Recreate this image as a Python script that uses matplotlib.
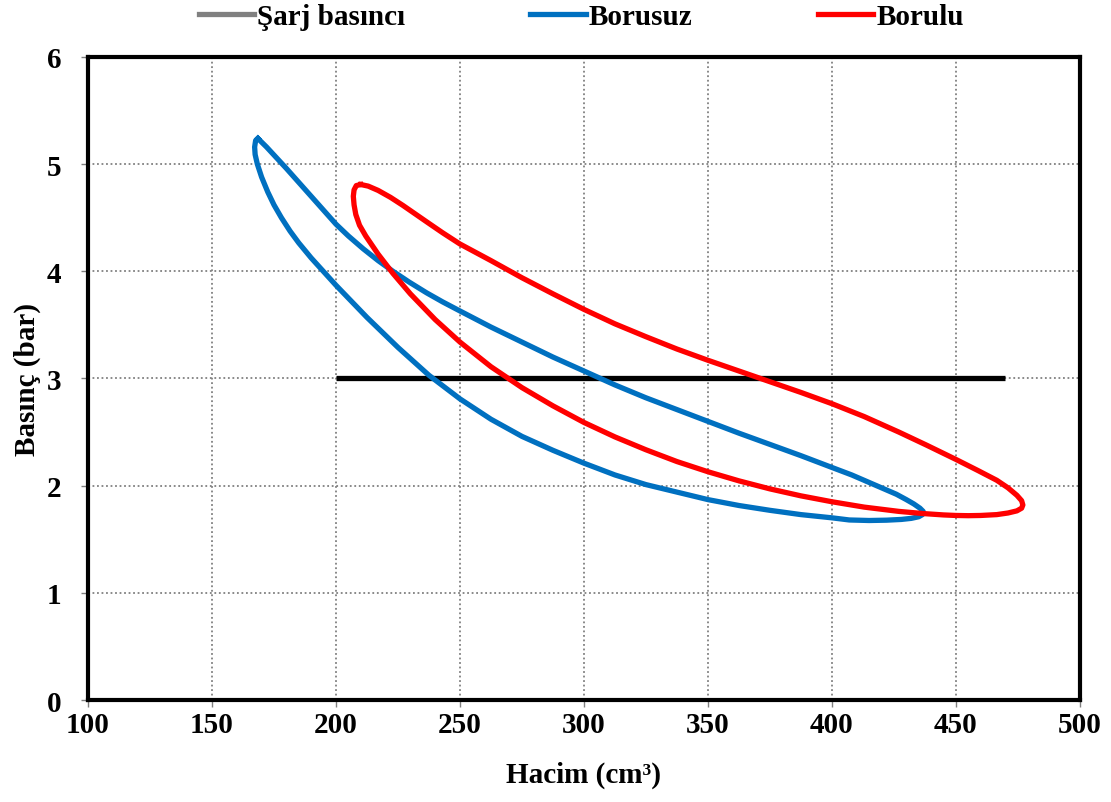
import matplotlib.pyplot as plt
from matplotlib.lines import Line2D

# P-V döngüleri
# Borusuz: sol uçtan üst kol boyunca sağa, alt kol boyunca geri
blue_x = [168.5, 172, 176, 180, 185, 190, 195, 200, 205, 211, 217, 223, 229.5, 236.5,
          243, 250, 262.5, 275, 287.5, 300, 312.5, 325, 337.5, 350, 362.5, 375, 387.5,
          400, 408, 415, 421, 426, 430, 433, 435.5, 436.8, 436.5, 435, 432, 428, 422,
          415, 407, 400, 387.5, 375, 362.5, 350, 337.5, 325, 312.5, 300, 287.5, 275,
          262.5, 250, 237.5, 225, 212.5, 200, 190, 185, 181.5, 178, 175, 172.5, 170,
          168.3, 167.4, 167.2, 167.6, 168.5]
blue_y = [5.24, 5.16, 5.06, 4.96, 4.83, 4.70, 4.57, 4.44, 4.33, 4.21, 4.10, 4.00, 3.90,
          3.80, 3.715, 3.63, 3.48, 3.34, 3.20, 3.07, 2.94, 2.82, 2.71, 2.60, 2.49,
          2.385, 2.28, 2.17, 2.10, 2.03, 1.97, 1.92, 1.87, 1.83, 1.79, 1.76, 1.73,
          1.71, 1.695, 1.685, 1.678, 1.675, 1.68, 1.70, 1.73, 1.77, 1.815, 1.87,
          1.94, 2.01, 2.10, 2.21, 2.33, 2.46, 2.62, 2.81, 3.03, 3.29, 3.57, 3.87,
          4.125, 4.265, 4.375, 4.50, 4.62, 4.74, 4.88, 5.00, 5.09, 5.16, 5.22, 5.24]

# Borulu
red_x = [210, 213, 217, 222, 227, 232, 237, 243, 250, 262.5, 275, 287.5, 300, 312.5,
         325, 337.5, 350, 362.5, 375, 387.5, 400, 413, 427, 438, 450, 459, 466.5, 471,
         474.6, 476.5, 477, 476.5, 474.6, 471, 466.5, 460, 455, 450, 445, 436.7, 427,
         413, 400, 387.5, 375, 362.5, 350, 337.5, 325, 312.5, 300, 287.5, 275, 262.5,
         250, 240, 230, 223, 217, 212, 209.5, 208, 207.3, 207, 207.3, 208.2, 210]
red_y = [4.81, 4.795, 4.755, 4.69, 4.615, 4.535, 4.455, 4.36, 4.255, 4.10, 3.94, 3.79,
         3.645, 3.51, 3.39, 3.275, 3.17, 3.07, 2.97, 2.87, 2.765, 2.645, 2.50, 2.38,
         2.245, 2.14, 2.05, 1.98, 1.91, 1.86, 1.82, 1.79, 1.765, 1.745, 1.73, 1.722,
         1.72, 1.722, 1.727, 1.74, 1.76, 1.80, 1.85, 1.905, 1.97, 2.045, 2.13, 2.225,
         2.335, 2.455, 2.59, 2.745, 2.915, 3.11, 3.34, 3.55, 3.79, 3.98, 4.16, 4.33,
         4.43, 4.53, 4.62, 4.70, 4.76, 4.80, 4.81]

# Şarj basıncı
sarj_x = [200, 470]
sarj_y = [3, 3]

plt.rcParams['font.family'] = ['Liberation Serif', 'DejaVu Serif']
plt.rcParams['font.weight'] = 'bold'

fig = plt.figure(figsize=(11.11, 8.03), dpi=100)
ax = fig.add_axes([0.0792, 0.127, 0.8928, 0.8008])

ax.plot(sarj_x, sarj_y, color='black', lw=3.8, solid_capstyle='butt', zorder=3)
ax.plot(blue_x, blue_y, color='#0070C0', lw=3.8, solid_joinstyle='round', zorder=4)
ax.plot(red_x, red_y, color='#FF0000', lw=3.8, solid_joinstyle='round', zorder=5)

ax.set_xlim(100, 500)
ax.set_ylim(0, 6)
ax.set_xticks(range(100, 501, 50))
ax.set_yticks(range(0, 7))
ax.grid(True, color='#808080', linestyle=(0, (1, 1.5)), linewidth=1.3, zorder=1)
ax.set_axisbelow(True)

for s in ax.spines.values():
    s.set_linewidth(3)
    s.set_color('black')

ax.tick_params(axis='both', direction='out', length=5, width=1, color='#808080',
               labelsize=21)
ax.tick_params(axis='x', pad=3)
ax.tick_params(axis='y', pad=14)
for lab in ax.get_xticklabels() + ax.get_yticklabels():
    lab.set_fontweight('bold')

ax.set_xlabel('Hacim (cm³)', fontsize=21, fontweight='bold', labelpad=16)
ax.set_ylabel('Basınç (bar)', fontsize=21, fontweight='bold', labelpad=4)

handles = [Line2D([], [], color='#808080', lw=3.8),
           Line2D([], [], color='#0070C0', lw=3.8),
           Line2D([], [], color='#FF0000', lw=3.8)]
fig.legend(handles, ['Şarj basıncı', 'Borusuz', 'Borulu'], loc='center',
           bbox_to_anchor=(0.523, 0.978), ncol=3, frameon=False,
           prop={'size': 21, 'weight': 'bold'}, handlelength=1.9,
           handletextpad=0.1, columnspacing=4.3, borderaxespad=0)

plt.savefig('out.png', dpi=100)
